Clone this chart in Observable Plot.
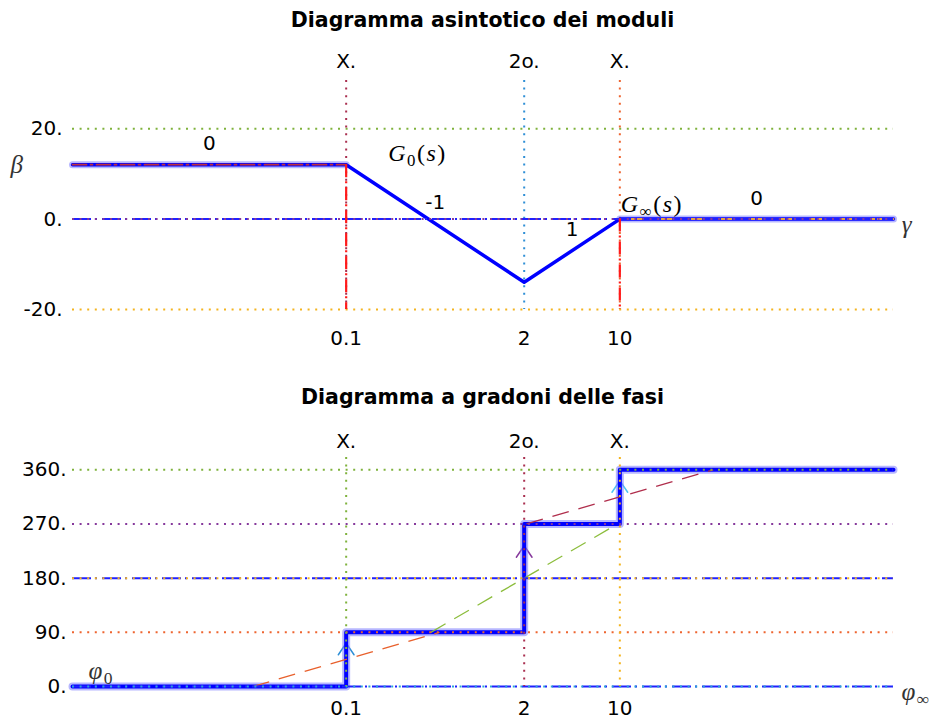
<!DOCTYPE html>
<html>
<head>
<meta charset="utf-8">
<script src="https://cdn.jsdelivr.net/npm/d3@7"></script>
<script src="https://cdn.jsdelivr.net/npm/@observablehq/plot@0.6"></script>
<style>
  html, body { margin:0; padding:0; background:#fff; }
  #chart { position:relative; width:943px; height:725px; overflow:hidden; background:#fff; }
  .ttl { position:absolute; left:72px; width:821px; text-align:center; font-family:"DejaVu Sans", sans-serif; font-weight:bold; font-size:20.5px; line-height:1; color:#000; white-space:nowrap; }
  .pnl { position:absolute; left:0; width:943px; }
</style>
</head>
<body>
<div id="chart">
  <div class="pnl" id="p1" style="top:0px"></div>
  <div class="pnl" id="p2" style="top:360px"></div>
  <div class="ttl" id="t1" style="top:9.5px"></div>
  <div class="ttl" id="t2" style="top:386.5px"></div>
</div>
<script>
// ---------------- data ----------------
const titleMag = "Diagramma asintotico dei moduli";
const titlePhase = "Diagramma a gradoni delle fasi";
const freq = [0.001, 0.1, 2, 10, 1000];          // asymptote vertices (rad/s)
const magDb = [12.04, 12.04, -13.98, 0, 0];      // asymptotic magnitude (dB)
const phaseDeg = [0, 90, 270, 360, 360];         // step phase (deg)
const breaks = [0.1, 2, 10];
const breakTypes = ["X.", "2o.", "X."];
const breakTickLabels = ["0.1", "2", "10"];
const slopeLabels = ["0", "-1", "1", "0"];
const magTicks = [20, 0, -20];
const phaseTicks = [360, 270, 180, 90, 0];
const freqRange = [0.001, 1000];
const magRange = [-20, 30.67];
const phaseRange = [0, 380.4];
const bodeSpread = 4.81;      // linear phase approximation spans w/4.81 .. w*4.81
const arrowFraction = 0.8;
const magNames = {g0: "G0(s)", ginf: "G∞(s)", yName: "β", xName: "γ"};
const phaseNames = {start: "φ0", end: "φ∞"};

// ---------------- styles ----------------
const C = {
  blue: "#0000ff", band: "#7b7bff",
  green: "#7fb23c", gold: "#f4b41e", orange: "#ee6530", maroon: "#a92f4f",
  purple: "#86399c", sky: "#2f8fd6", cyan: "#2aa5d6", lightCyan: "#4cc4f2",
  ruleBlue: "#2020ff", red: "#ff1a1a", g0: "#c0303c", ginf: "#e8a23c",
  dashOrange: "#e8602c", dashGreen: "#8cbd3c", dashMaroon: "#b02e4c"
};
const DOT = "2,5.6", DASHDOT = "19,4,2,5";
const SERIF = "Liberation Serif, serif";

document.getElementById("t1").textContent = titleMag;
document.getElementById("t2").textContent = titlePhase;

const magPts = freq.map((f, i) => ({f, v: magDb[i]}));
const phasePts = freq.map((f, i) => ({f, p: phaseDeg[i]}));
const magSegs = slopeLabels.map((s, i) => ({label: s, f: Math.sqrt(freq[i] * freq[i + 1]), v: (magDb[i] + magDb[i + 1]) / 2}));
const breakPts = breaks.map((b, i) => {
  const k = freq.indexOf(b);
  return {f: b, type: breakTypes[i], tick: breakTickLabels[i], mag: magDb[k], before: phaseDeg[k - 1], after: phaseDeg[k]};
});
const fmtDot = d => d + ".";

const common = {
  width: 943, marginLeft: 72, marginRight: 50,
  x: {type: "log", domain: freqRange, axis: null},
  style: {fontFamily: "DejaVu Sans, sans-serif", fontSize: "20px", color: "#000", background: "none", overflow: "visible"}
};

// ---------------- magnitude panel ----------------
const magRuleStyle = [
  [{stroke: C.green, strokeWidth: 2, strokeDasharray: DOT}],
  [{stroke: C.ruleBlue, strokeWidth: 2, strokeDasharray: DASHDOT}, {stroke: C.purple, strokeWidth: 2, strokeDasharray: DOT}],
  [{stroke: C.gold, strokeWidth: 2, strokeDasharray: DOT}]
];
const magVColors = [C.maroon, C.sky, C.orange];

const topPlot = Plot.plot({
  ...common, height: 360, marginTop: 80, marginBottom: 51,
  y: {domain: magRange},
  marks: [
    Plot.ruleY([magTicks[0]], magRuleStyle[0][0]),
    Plot.ruleY([magTicks[2]], magRuleStyle[2][0]),
    ...breakPts.map((d, i) => Plot.ruleX([d.f], {stroke: magVColors[i], strokeWidth: 2, strokeDasharray: DOT})),
    Plot.line(magPts.slice(0, 2), {x: "f", y: "v", stroke: C.band, strokeWidth: 7, strokeOpacity: 0.55}),
    Plot.line(magPts.slice(3), {x: "f", y: "v", stroke: C.band, strokeWidth: 7, strokeOpacity: 0.55}),
    Plot.line(magPts, {x: "f", y: "v", stroke: C.blue, strokeWidth: 3.5}),
    Plot.line(magPts.slice(0, 2), {x: "f", y: "v", stroke: C.g0, strokeWidth: 1.8, strokeDasharray: "14,4,2,4"}),
    Plot.line(magPts.slice(3), {x: "f", y: "v", stroke: C.ginf, strokeWidth: 2}),
    ...magRuleStyle[1].map(s => Plot.ruleY([magTicks[1]], s)),
    Plot.ruleX(breakPts.filter(d => d.type === "X."), {x: "f", y1: "mag", y2: () => magRange[0], stroke: C.red, strokeWidth: 2.2, strokeDasharray: "13,4,2,4"}),
    Plot.axisY(magTicks, {tickSize: 0, tickPadding: 10, tickFormat: fmtDot, label: null}),
    Plot.text(breakPts, {x: "f", text: "type", frameAnchor: "top", lineAnchor: "middle", dy: -19, fill: "#000"}),
    Plot.text(breakPts, {x: "f", text: "tick", frameAnchor: "bottom", lineAnchor: "middle", dy: 29, fill: "#000"}),
    Plot.text(magSegs, {x: "f", y: "v", text: "label", dy: -21, fill: "#000"}),
    Plot.text([breakPts[0]], {x: "f", y: "mag", text: () => magNames.g0, textAnchor: "start", dx: 42, dy: -11, fontFamily: SERIF, fontSize: 24}),
    Plot.text([magPts[3]], {x: "f", y: "v", text: () => magNames.ginf, textAnchor: "start", dx: 1, dy: -15, fontFamily: SERIF, fontSize: 24}),
    Plot.text([magPts[0]], {x: "f", y: "v", text: () => magNames.yName, dx: -55, dy: 0, fontFamily: SERIF, fontSize: 25, fill: "#333"}),
    Plot.text([magPts[4]], {x: "f", y: "v", text: () => magNames.xName, dx: 14, dy: 6, fontFamily: SERIF, fontSize: 25, fill: "#333"})
  ]
});

// ---------------- phase panel ----------------
const phaseRuleStyle = [
  [{stroke: C.green, strokeWidth: 2, strokeDasharray: DOT}],
  [{stroke: C.purple, strokeWidth: 2, strokeDasharray: DOT}],
  [{stroke: C.ruleBlue, strokeWidth: 2, strokeDasharray: DASHDOT}, {stroke: C.gold, strokeWidth: 2, strokeDasharray: DOT}],
  [{stroke: C.orange, strokeWidth: 2, strokeDasharray: DOT}],
  [{stroke: C.ruleBlue, strokeWidth: 2, strokeDasharray: DASHDOT}, {stroke: C.cyan, strokeWidth: 2, strokeDasharray: DOT}]
];
const phaseVColors = [C.green, C.maroon, C.gold];
const arrowColors = [C.sky, C.purple, C.lightCyan];
const dashColors = [C.dashOrange, C.dashGreen, C.dashMaroon];

const bottomPlot = Plot.plot({
  ...common, height: 365, marginTop: 97, marginBottom: 39,
  y: {domain: phaseRange},
  marks: [
    ...breakPts.map((d, i) => Plot.arrow([d], {
      x1: "f", x2: "f", y1: "before", y2: e => e.before + arrowFraction * (e.after - e.before),
      stroke: arrowColors[i], strokeWidth: 1.5, headLength: 14, headAngle: 68
    })),
    Plot.line(phasePts, {x: "f", y: "p", curve: "step-after", stroke: C.band, strokeWidth: 8, strokeOpacity: 0.55}),
    Plot.line(phasePts, {x: "f", y: "p", curve: "step-after", stroke: C.blue, strokeWidth: 4}),
    ...breakPts.map((d, i) => Plot.link([d], {
      x1: e => e.f / bodeSpread, x2: e => e.f * bodeSpread, y1: "before", y2: "after",
      stroke: dashColors[i], strokeWidth: 1.3, strokeDasharray: "17,10"
    })),
    ...phaseTicks.flatMap((t, i) => phaseRuleStyle[i].map(s => Plot.ruleY([t], s))),
    ...breakPts.map((d, i) => Plot.ruleX([d.f], {stroke: phaseVColors[i], strokeWidth: 2, strokeDasharray: DOT})),
    Plot.axisY(phaseTicks, {tickSize: 0, tickPadding: 6, tickFormat: fmtDot, label: null}),
    Plot.text(breakPts, {x: "f", text: "type", frameAnchor: "top", lineAnchor: "middle", dy: -16, fill: "#000"}),
    Plot.text(breakPts, {x: "f", text: "tick", frameAnchor: "bottom", lineAnchor: "middle", dy: 22, fill: "#000"}),
    Plot.text([phasePts[0]], {x: "f", y: "p", text: () => phaseNames.start, textAnchor: "start", dx: 16, dy: -16, fontFamily: SERIF, fontSize: 25, fill: "#333"}),
    Plot.text([{f: freq[freq.length - 1], p: phaseDeg[0]}], {x: "f", y: "p", text: () => phaseNames.end, textAnchor: "start", dx: 8, dy: 5, fontFamily: SERIF, fontSize: 25, fill: "#333"})
  ]
});

// ---------------- LaTeX-like typesetting of math labels ----------------
const mathParts = {
  "G0(s)": [["G", 1, 0], ["0", 0, 1], ["(", 0, 0], ["s", 1, 0], [")", 0, 0]],
  "G∞(s)": [["G", 1, 0], ["∞", 0, 1], ["(", 0, 0], ["s", 1, 0], [")", 0, 0]],
  "φ0": [["φ", 1, 0], ["0", 0, 1]],
  "φ∞": [["φ", 1, 0], ["∞", 0, 1]],
  "β": [["β", 1, 0]],
  "γ": [["γ", 1, 0]]
};
function mathify(svg) {
  d3.select(svg).selectAll("text").filter(function () { return mathParts[this.textContent]; }).each(function () {
    const parts = mathParts[this.textContent];
    const el = d3.select(this);
    el.text(null).attr("letter-spacing", "1.5px");
    let inSub = false;
    for (const [s, it, sub] of parts) {
      const ts = el.append("tspan").text(s).attr("font-style", it ? "italic" : "normal");
      if (sub) ts.attr("font-size", "70%");
      if (sub && !inSub) ts.attr("dy", "5");
      if (!sub && inSub) ts.attr("dy", "-5");
      inSub = !!sub;
    }
  });
}
mathify(topPlot);
mathify(bottomPlot);
document.getElementById("p1").appendChild(topPlot);
document.getElementById("p2").appendChild(bottomPlot);
</script>
</body>
</html>
